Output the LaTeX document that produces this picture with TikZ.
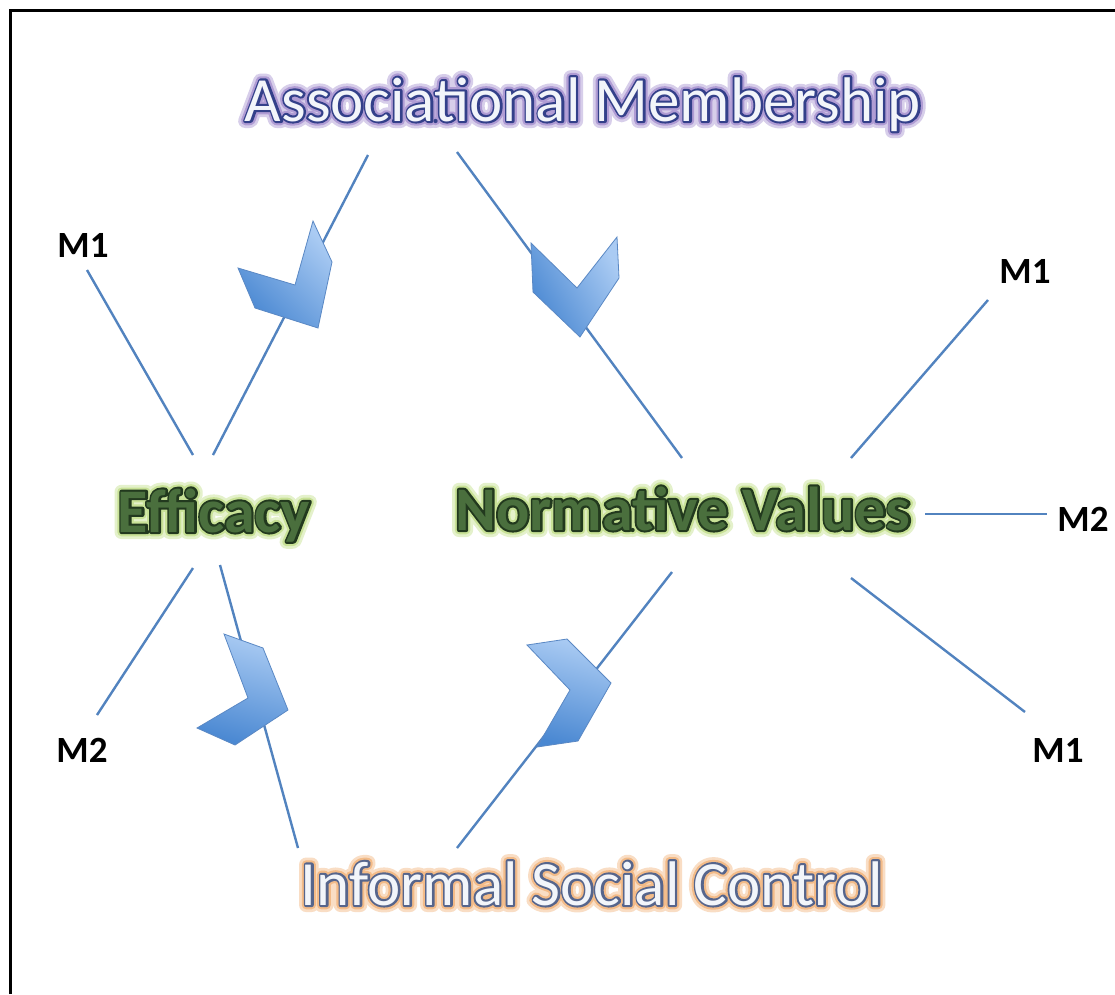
\documentclass[tikz,border=0pt]{standalone}
\usepackage{fontspec}
\setmainfont{Carlito}
\definecolor{linkblue}{HTML}{5283BF}
\definecolor{chevlight}{HTML}{AACBF3}
\definecolor{chevdark}{HTML}{4A88D2}
\definecolor{chevedge}{HTML}{5A88C4}
\definecolor{amfill}{HTML}{F2F5FA}
\definecolor{amline}{HTML}{33408A}
\definecolor{amglow}{HTML}{8E72C2}
\definecolor{iscline}{HTML}{56658C}
\definecolor{iscglow}{HTML}{EE9E55}
\definecolor{grfill}{HTML}{4A6F3D}
\definecolor{grline}{HTML}{22391E}
\definecolor{grglow}{HTML}{B2D66A}
\tikzset{
  link/.style={draw=linkblue,line width=2.4pt},
  chev/.style={draw=chevedge,line width=0.8pt,top color=chevlight,bottom color=chevdark},
  mlabel/.style={font=\bfseries\fontsize{37}{40}\selectfont,anchor=base,inner sep=0pt},
  glowtxt/.style={anchor=base,inner sep=0pt}
}
% #1 name, #2 x, #3 y, #4 font, #5 fill colour, #6 outline colour, #7 glow colour, #8 text
\newcommand\glowtext[8]{%
  \node[glowtxt,font=#4,text=#7!35] (#1-g1) at (#2,#3)
    {\special{pdf:code 1 Tr 14 w 1 j 1 J}#8\special{pdf:code 0 Tr 0.4 w 0 j 0 J}};
  \node[glowtxt,font=#4,text=#7!70] (#1-g2) at (#2,#3)
    {\special{pdf:code 1 Tr 8.5 w 1 j 1 J}#8\special{pdf:code 0 Tr 0.4 w 0 j 0 J}};
  \node[glowtxt,font=#4,text=#6] (#1-o) at (#2,#3)
    {\special{pdf:code 1 Tr 4.2 w 1 j 1 J}#8\special{pdf:code 0 Tr 0.4 w 0 j 0 J}};
  \node[glowtxt,font=#4,text=#5] (#1) at (#2,#3) {#8};
}
\begin{document}
\begin{tikzpicture}[x=1pt,y=-1pt]
\useasboundingbox (0,0) rectangle (1115,994);
\fill[white] (0,0) rectangle (1115,994);
\draw[line width=3pt] (10,994) -- (10,10) -- (1115,10);

% connector end points
\coordinate (amL) at (368,155);
\coordinate (amR) at (457,152);
\coordinate (effT) at (213,455);
\coordinate (effTL) at (193,455);
\coordinate (effBL) at (193,568);
\coordinate (effB) at (220,565);
\coordinate (nvT) at (682,458);
\coordinate (nvB) at (672,572);
\coordinate (nvTR) at (851,458);
\coordinate (nvR) at (925,514);
\coordinate (nvBR) at (851,578);
\coordinate (iscL) at (298,848);
\coordinate (iscR) at (457,848);
\coordinate (m1aE) at (87,270);
\coordinate (m2aE) at (97,715);
\coordinate (m1bE) at (988,300);
\coordinate (m2bE) at (1047,514);
\coordinate (m1cE) at (1025,712);

\draw[link] (amL) -- (effT);
\draw[link] (amR) -- (nvT);
\draw[link] (m1aE) -- (effTL);
\draw[link] (effBL) -- (m2aE);
\draw[link] (effB) -- (iscL);
\draw[link] (nvB) -- (iscR);
\draw[link] (nvTR) -- (m1bE);
\draw[link] (nvR) -- (m2bE);
\draw[link] (nvBR) -- (m1cE);

% chevrons
\path[chev,shading angle=-45] (313,221) -- (332,262) -- (318,328) -- (255,308) -- (238,268) -- (295,285) -- cycle;
\path[chev,shading angle=-60] (531,243) -- (577,288) -- (617,237) -- (619,278) -- (580,337) -- (533,292) -- cycle;
\path[chev,shading angle=-15] (224,634) -- (263,648) -- (288,710) -- (235,745) -- (197,728) -- (248,698) -- cycle;
\path[chev,shading angle=-15] (527,645) -- (567,639) -- (611,683) -- (578,741) -- (537,747) -- (570,690) -- cycle;

% texts
\glowtext{am}{583}{121}{\fontsize{63}{70}\selectfont}{amfill}{amline}{amglow}{Associational Membership}
\glowtext{isc}{592}{905}{\fontsize{63}{70}\selectfont}{amfill}{iscline}{iscglow}{Informal Social Control}
\glowtext{eff}{214}{532}{\bfseries\fontsize{62}{70}\selectfont}{grfill}{grline}{grglow}{Efficacy}
\glowtext{nv}{683}{530}{\bfseries\fontsize{62}{70}\selectfont}{grfill}{grline}{grglow}{Normative Values}

\node[mlabel] (m1a) at (83,257) {M1};
\node[mlabel] (m2a) at (82,762) {M2};
\node[mlabel] (m1b) at (1025,283) {M1};
\node[mlabel] (m2b) at (1083,531) {M2};
\node[mlabel] (m1c) at (1058,762) {M1};
\end{tikzpicture}
\end{document}
